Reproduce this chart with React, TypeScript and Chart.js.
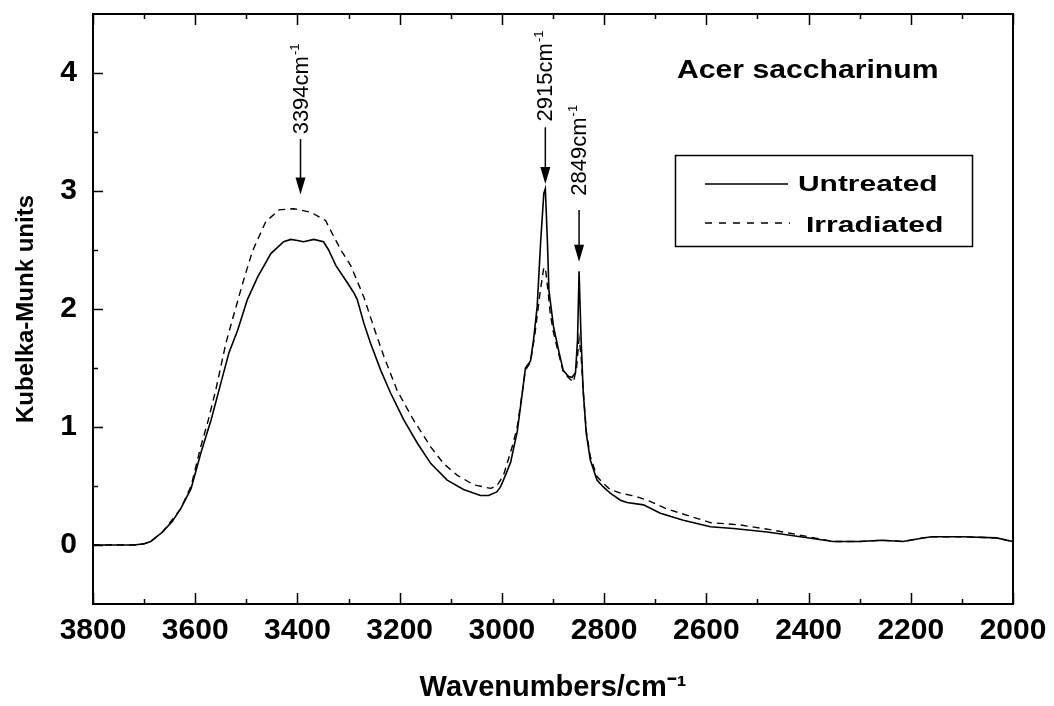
import React, { useEffect, useRef } from 'react';
import { Chart, registerables } from 'chart.js';

Chart.register(...registerables);

// ---- Data ----
const untreatedWavenumbers = [
  3800, 3720, 3700, 3687, 3664, 3645, 3628, 3608, 3589, 3569, 3550, 3534, 3517, 3498, 3478, 3452,
  3427, 3413, 3400, 3388, 3368, 3349, 3339, 3325, 3302, 3290, 3283, 3270, 3257, 3237, 3218, 3192,
  3165, 3139, 3107, 3075, 3042, 3026, 3010, 3003, 2997, 2983, 2970, 2960, 2954, 2944, 2938, 2931,
  2924, 2918, 2915, 2911, 2908, 2899, 2889, 2880, 2870, 2863, 2856, 2852, 2849, 2845, 2841, 2835,
  2827, 2814, 2801, 2788, 2768, 2755, 2723, 2690, 2645, 2592, 2547, 2481, 2416, 2352, 2300, 2257,
  2215, 2176, 2159, 2100, 2032, 2012, 2000,
];
const untreatedKM = [
  0.0, 0.0, 0.01, 0.03, 0.11, 0.2, 0.31, 0.48, 0.78, 1.06, 1.37, 1.63, 1.82, 2.08, 2.27, 2.47,
  2.57, 2.59, 2.58, 2.57, 2.59, 2.57, 2.5, 2.37, 2.22, 2.14, 2.08, 1.88, 1.71, 1.48, 1.29, 1.06,
  0.86, 0.69, 0.55, 0.47, 0.42, 0.42, 0.45, 0.49, 0.55, 0.7, 0.96, 1.29, 1.5, 1.56, 1.74, 2.02,
  2.58, 2.98, 3.02, 2.58, 2.16, 1.85, 1.65, 1.48, 1.43, 1.42, 1.46, 1.74, 2.32, 1.74, 1.31, 0.95,
  0.72, 0.55, 0.49, 0.44, 0.38, 0.36, 0.34, 0.27, 0.21, 0.155, 0.14, 0.11, 0.07, 0.03, 0.03, 0.04,
  0.03, 0.06, 0.07, 0.07, 0.06, 0.04, 0.03,
];

const irradiatedWavenumbers = [
  3800, 3720, 3700, 3687, 3664, 3628, 3608, 3590, 3575, 3560, 3540, 3524, 3505, 3488, 3462, 3436,
  3407, 3374, 3345, 3332, 3315, 3296, 3270, 3251, 3231, 3205, 3173, 3139, 3114, 3087, 3055, 3022,
  3010, 2997, 2980, 2970, 2960, 2954, 2944, 2935, 2925, 2918, 2915, 2911, 2905, 2899, 2889, 2880,
  2870, 2860, 2854, 2849, 2845, 2841, 2835, 2827, 2814, 2801, 2788, 2768, 2736, 2710, 2680, 2651,
  2592, 2534, 2475, 2436, 2400, 2352, 2300, 2257, 2215, 2176, 2159, 2100, 2032, 2012, 2000,
];
const irradiatedKM = [
  0.0, 0.0, 0.01, 0.03, 0.11, 0.31, 0.5, 0.82, 1.05, 1.31, 1.71, 1.96, 2.25, 2.49, 2.74, 2.84,
  2.85, 2.82, 2.75, 2.64, 2.5, 2.37, 2.1, 1.85, 1.6, 1.31, 1.06, 0.83, 0.69, 0.59, 0.51, 0.48,
  0.5, 0.59, 0.83, 1.0, 1.3, 1.48, 1.55, 1.8, 2.15, 2.35, 2.35, 2.2, 1.95, 1.8, 1.62, 1.47,
  1.42, 1.38, 1.5, 1.75, 1.6, 1.31, 0.97, 0.75, 0.58, 0.52, 0.47, 0.44, 0.41, 0.37, 0.31, 0.27,
  0.19, 0.17, 0.13, 0.1, 0.07, 0.03, 0.03, 0.04, 0.03, 0.06, 0.07, 0.07, 0.06, 0.04, 0.03,
];

const seriesNames = ['Untreated', 'Irradiated'];
const sampleName = 'Acer saccharinum';
const xTickValues = [3800, 3600, 3400, 3200, 3000, 2800, 2600, 2400, 2200, 2000];
const xMinorValues = [3700, 3500, 3300, 3100, 2900, 2700, 2500, 2300, 2100];
const yTickValues = [0, 1, 2, 3, 4];
const yMinorValues = [0.5, 1.5, 2.5, 3.5];

const peakWavenumbers = [3394, 2915, 2849];
const peakLabels = ['3394cm', '2915cm', '2849cm'];
const arrowTipKM = [2.97, 3.06, 2.4];
const arrowTailKM = [3.44, 3.54, 2.84];
const labelStartKM = [3.48, 3.59, 2.96];

const FONT = "'Liberation Sans', Arial, sans-serif";

function toPoints(xs: number[], ys: number[]) {
  return xs.map((x, i) => ({ x, y: ys[i] }));
}

function drawStretched(ctx: CanvasRenderingContext2D, text: string, x: number, y: number, sx: number) {
  ctx.save();
  ctx.translate(x, y);
  ctx.scale(sx, 1);
  ctx.fillText(text, 0, 0);
  ctx.restore();
}

const overlayPlugin = {
  id: 'overlay',
  afterDatasetsDraw(chart: any) {
    const { ctx, chartArea: a, scales } = chart;
    const xs = scales.x;
    const ys = scales.y;
    ctx.save();
    ctx.strokeStyle = '#000';
    ctx.fillStyle = '#000';
    ctx.setLineDash([]);

    // frame
    ctx.lineWidth = 2;
    ctx.strokeRect(a.left, a.top, a.right - a.left, a.bottom - a.top);

    // tick marks (inward)
    ctx.lineWidth = 1.5;
    ctx.beginPath();
    xTickValues.forEach((v) => {
      const px = Math.round(xs.getPixelForValue(v)) + 0.5;
      ctx.moveTo(px, a.bottom);
      ctx.lineTo(px, a.bottom - 11);
      ctx.moveTo(px, a.top);
      ctx.lineTo(px, a.top + 11);
    });
    xMinorValues.forEach((v) => {
      const px = Math.round(xs.getPixelForValue(v)) + 0.5;
      ctx.moveTo(px, a.bottom);
      ctx.lineTo(px, a.bottom - 5);
      ctx.moveTo(px, a.top);
      ctx.lineTo(px, a.top + 5);
    });
    yTickValues.forEach((v) => {
      const py = Math.round(ys.getPixelForValue(v)) + 0.5;
      ctx.moveTo(a.left, py);
      ctx.lineTo(a.left + 10, py);
    });
    yMinorValues.forEach((v) => {
      const py = Math.round(ys.getPixelForValue(v)) + 0.5;
      ctx.moveTo(a.left, py);
      ctx.lineTo(a.left + 5, py);
    });
    ctx.stroke();

    // peak annotations
    peakWavenumbers.forEach((wn, i) => {
      const px = xs.getPixelForValue(wn);
      const tipY = ys.getPixelForValue(arrowTipKM[i]);
      const tailY = ys.getPixelForValue(arrowTailKM[i]);
      ctx.lineWidth = 1.5;
      ctx.beginPath();
      ctx.moveTo(px, tailY);
      ctx.lineTo(px, tipY - 10);
      ctx.stroke();
      ctx.beginPath();
      ctx.moveTo(px, tipY);
      ctx.lineTo(px - 5, tipY - 17);
      ctx.lineTo(px + 5, tipY - 17);
      ctx.closePath();
      ctx.fill();

      const startY = ys.getPixelForValue(labelStartKM[i]);
      ctx.save();
      ctx.translate(px + 7, startY);
      ctx.rotate(-Math.PI / 2);
      ctx.font = `22px ${FONT}`;
      ctx.textBaseline = 'alphabetic';
      ctx.textAlign = 'left';
      ctx.fillText(peakLabels[i], 0, 0);
      const w = ctx.measureText(peakLabels[i]).width;
      ctx.font = `13px ${FONT}`;
      ctx.fillText('-1', w + 1, -9);
      ctx.restore();
    });

    // sample name
    ctx.font = `bold 26px ${FONT}`;
    ctx.textBaseline = 'alphabetic';
    ctx.textAlign = 'left';
    drawStretched(ctx, sampleName, 677, 78, 1.16);

    // legend box
    ctx.lineWidth = 1.5;
    ctx.strokeRect(675.5, 155.5, 297, 91);
    ctx.lineWidth = 1.6;
    ctx.beginPath();
    ctx.moveTo(705, 184);
    ctx.lineTo(788, 184);
    ctx.stroke();
    ctx.setLineDash([7, 7]);
    ctx.beginPath();
    ctx.moveTo(705, 223);
    ctx.lineTo(790, 223);
    ctx.stroke();
    ctx.setLineDash([]);
    ctx.font = `bold 22px ${FONT}`;
    drawStretched(ctx, seriesNames[0], 798, 191, 1.36);
    drawStretched(ctx, seriesNames[1], 806, 232, 1.37);

    ctx.restore();
  },
};

export default function App() {
  const canvasRef = useRef<HTMLCanvasElement | null>(null);

  useEffect(() => {
    document.body.style.margin = '0';
    const canvas = canvasRef.current;
    if (!canvas) return;
    const chart = new Chart(canvas, {
      type: 'line',
      data: {
        datasets: [
          {
            label: seriesNames[0],
            data: toPoints(untreatedWavenumbers, untreatedKM),
            borderColor: '#000',
            borderWidth: 1.6,
            pointRadius: 0,
            tension: 0,
            fill: false,
          },
          {
            label: seriesNames[1],
            data: toPoints(irradiatedWavenumbers, irradiatedKM),
            borderColor: '#000',
            borderWidth: 1.4,
            borderDash: [7, 5],
            pointRadius: 0,
            tension: 0,
            fill: false,
          },
        ],
      },
      options: {
        responsive: false,
        animation: false,
        devicePixelRatio: 1,
        layout: { padding: { top: 14, right: 41, left: 0, bottom: 0 } },
        plugins: {
          legend: { display: false },
          tooltip: { enabled: false },
        },
        scales: {
          x: {
            type: 'linear',
            reverse: true,
            min: 2000,
            max: 3800,
            border: { display: false },
            grid: { display: false, drawTicks: false },
            afterFit: (s: any) => {
              s.height = 102;
              s.paddingLeft = 0;
              s.paddingRight = 0;
            },
            afterBuildTicks: (s: any) => {
              s.ticks = xTickValues.map((v) => ({ value: v }));
            },
            ticks: {
              autoSkip: false,
              maxRotation: 0,
              padding: 9,
              color: '#000',
              font: { family: FONT, size: 30, weight: 'bold' },
              callback: (v: any) => String(v),
            },
            title: {
              display: true,
              text: 'Wavenumbers/cm⁻¹',
              color: '#000',
              font: { family: FONT, size: 29, weight: 'bold' },
              padding: { top: 0, bottom: 1 },
            },
          },
          y: {
            type: 'linear',
            min: -0.5,
            max: 4.5,
            border: { display: false },
            grid: { display: false, drawTicks: false },
            afterFit: (s: any) => {
              s.width = 93;
              s.paddingTop = 0;
              s.paddingBottom = 0;
            },
            afterBuildTicks: (s: any) => {
              s.ticks = yTickValues.map((v) => ({ value: v }));
            },
            ticks: {
              padding: 16,
              color: '#000',
              font: { family: FONT, size: 30, weight: 'bold' },
              callback: (v: any) => String(v),
            },
            title: {
              display: true,
              text: 'Kubelka-Munk units',
              color: '#000',
              font: { family: FONT, size: 24, weight: 'bold' },
              padding: { top: 12, bottom: 0 },
            },
          },
        },
      },
      plugins: [overlayPlugin],
    } as any);
    return () => chart.destroy();
  }, []);

  return (
    <div style={{ width: 1054, height: 706, background: '#fff' }}>
      <canvas ref={canvasRef} width={1054} height={706} />
    </div>
  );
}
